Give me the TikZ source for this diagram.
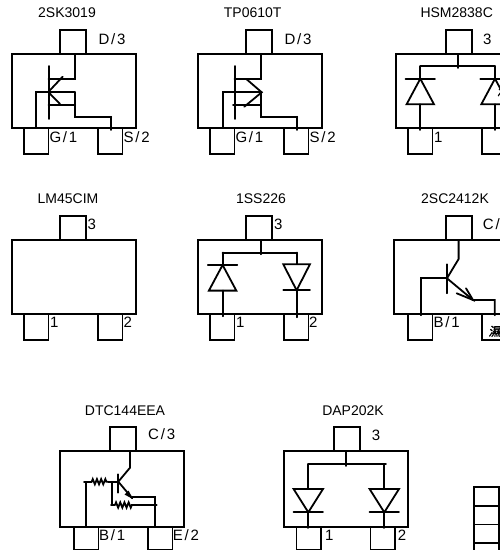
\documentclass[tikz,border=0pt]{standalone}
\usepackage{fontspec}
\usetikzlibrary{decorations.pathmorphing}
\setmainfont{Liberation Sans}
\newfontfamily\pinfont[LetterSpace=12]{Liberation Sans}
\newfontfamily\cjk[FakeSlant=0.2,FakeBold=2]{Noto Sans CJK SC}

\tikzset{
  wire/.style={line width=1.8pt, line cap=round},
  box/.style={draw, line width=1.8pt, inner sep=0pt, outer sep=0pt, anchor=north west},
  title/.style={inner sep=0pt, font=\fontsize{14}{14}\selectfont},
  pin/.style={inner sep=0pt, anchor=west, font=\pinfont\fontsize{15}{15}\selectfont},
  glyph/.style={inner sep=0pt, anchor=west, font=\cjk\fontsize{12}{12}\selectfont},
  res/.style={wire, line cap=butt, decorate, decoration={zigzag, amplitude=2.6pt, segment length=4.2pt}}
}

% name, body height, lower pad height, top pad x, left pad x
\newcommand{\package}[5]{
  \node[box, minimum width=124pt, minimum height=#2pt] (#1body) at (0,0) {};
  \node[box, minimum width=26pt, minimum height=24pt] (#1top) at (#4,-24) {};
  \node[box, minimum width=24.5pt, minimum height=#3pt] (#1left) at (#5,#2) {};
  \node[box, minimum width=24.5pt, minimum height=#3pt] (#1right) at (#5+74,#2) {};
}
% lines that both transistors share
\newcommand{\fetlines}{
  \draw[wire] (62.3,0) -- (62.3,25) -- (36.3,25);
  \draw[wire] (36.3,12) -- (36.3,65);
  \draw[wire] (62.3,38) -- (62.3,62.7) -- (99,62.7);
  \draw[wire] (98.5,62.7) -- (98.5,76);
}
% x, top of the lead, bar, base, half width
\newcommand{\diodeup}[5]{
  \draw[wire] (#1,#2) -- (#1,#3);
  \draw[wire] (#1-#5-1,#3) -- (#1+#5+1,#3);
  \draw[wire] (#1,#3) -- (#1-#5,#4) -- (#1+#5,#4) -- cycle;
  \draw[wire] (#1,#4) -- (#1,76);
}
% x, top of the lead, base, bar, half width
\newcommand{\diodedown}[5]{
  \draw[wire] (#1,#2) -- (#1,#3);
  \draw[wire] (#1-#5,#3) -- (#1+#5,#3) -- (#1,#4) -- cycle;
  \draw[wire] (#1-#5,#4) -- (#1+#5,#4);
  \draw[wire] (#1,#4) -- (#1,77);
}

\begin{document}
\begin{tikzpicture}[x=1pt,y=-1pt]
  \clip (0,0) rectangle (500,550);
  % titles
  \node[title] (skname) at (67,13) {2SK3019};
  \node[title] (tpname) at (252.7,13) {TP0610T};
  \node[title] (hsmname) at (456.7,13) {HSM2838C};
  \node[title] (lmname) at (68,199) {LM45CIM};
  \node[title] (ssname) at (261,199) {1SS226};
  \node[title] (scname) at (455,199) {2SC2412K};
  \node[title] (dtcname) at (125,411) {DTC144EEA};
  \node[title] (dapname) at (353,411) {DAP202K};

  % first row
  \begin{scope}[shift={(12.3,54)}]
    \package{sk}{74}{26}{48}{11.7}
    \fetlines
    \draw[wire] (36.3,51) -- (63,51);
    \draw[wire] (23.7,74) -- (23.7,38) -- (62.3,38);
    \draw[wire] (50.4,22.7) -- (36,38) -- (47.7,50);
    \node[pin] (skd) at (86,-15) {D/3};
    \node[pin] (skg) at (37,83) {G/1};
    \node[pin] (sks) at (111,83) {S/2};
  \end{scope}
  \begin{scope}[shift={(198.3,54)}]
    \package{tp}{74}{26}{48}{11.7}
    \fetlines
    \draw[wire] (34.7,51) -- (62.3,51);
    \draw[wire] (24.3,74) -- (24.3,38) -- (63.4,38);
    \draw[wire] (48,25) -- (63.4,38.3) -- (46,52.7);
    \node[pin] (tpd) at (86,-15) {D/3};
    \node[pin] (tpg) at (37,83) {G/1};
    \node[pin] (tps) at (111,83) {S/2};
  \end{scope}
  \begin{scope}[shift={(396,54)}]
    \package{hsm}{74}{26}{50}{12}
    \draw[wire] (62.3,0) -- (62.3,14);
    \draw[wire] (24.3,12.3) -- (99,12.3);
    \diodeup{24.3}{12.3}{24.7}{50.3}{13.7}
    \diodeup{99}{12.3}{24.7}{50.3}{13.7}
    \node[pin] (hsmc) at (87,-15) {3};
    \node[pin] (hsma) at (38,83) {1};
    \node[glyph] (hsmb) at (101,37) {濕};
  \end{scope}

  % second row
  \begin{scope}[shift={(12.3,240.3)}]
    \package{lm}{74}{26}{48}{11.7}
    \node[pin] (lmc) at (75,-15.6) {3};
    \node[pin] (lma) at (37.7,82.4) {1};
    \node[pin] (lmb) at (111,82.4) {2};
  \end{scope}
  \begin{scope}[shift={(198.3,240.3)}]
    \package{ss}{74}{26}{47.7}{11.7}
    \draw[wire] (62.3,0) -- (62.3,14);
    \draw[wire] (24.3,12.3) -- (98.3,12.3);
    \diodeup{24.3}{12.3}{24.7}{50.3}{13.7}
    \diodedown{98.3}{12.3}{24}{50}{13.3}
    \node[pin] (ssc) at (75.7,-15.6) {3};
    \node[pin] (ssa) at (37.7,82.4) {1};
    \node[pin] (ssb) at (110.7,82.4) {2};
  \end{scope}
  \begin{scope}[shift={(394.3,240.3)}]
    \package{sc}{74}{26}{51.7}{13.7}
    \draw[wire] (64.3,0) -- (64.3,18.7) -- (52.7,38);
    \draw[wire] (52.7,24) -- (52.7,53);
    \draw[wire] (26.3,75) -- (26.3,38) -- (52.7,38);
    \draw[wire] (52.7,38) -- (78.7,59.7) -- (100.5,59.7) -- (100.5,75);
    \draw[wire] (71.7,48) -- (78.7,59.7) -- (62.4,53);
    \node[pin] (scc) at (88.4,-16) {C/3};
    \node[pin] (scb) at (39,82) {B/1};
    \node[glyph] (sce) at (94,91) {濕};
  \end{scope}

  % third row
  \begin{scope}[shift={(60,451)}]
    \package{dtc}{76}{23}{50}{14}
    \draw[wire] (70,0) -- (70,16.7) -- (58.3,30.7);
    \draw[wire] (58.3,23.3) -- (58.3,41.7);
    \draw[wire] (58.3,30.7) -- (72.3,47.3);
    \fill (72.8,48) -- (64.5,43.5) -- (68.5,39.5) -- cycle;
    \draw[wire] (72.3,45.7) -- (95,45.7) -- (95,76);
    \draw[wire] (26,76) -- (26,30.7) -- (24,30.7);
    \draw[wire] (26,30.7) -- (31.7,30.7);
    \draw[res] (31.7,30.7) -- (48.3,30.7);
    \draw[wire] (48.3,30.7) -- (58.3,30.7);
    \draw[wire] (51.7,30.7) -- (51.7,54);
    \draw[wire] (51,54) -- (55,54);
    \draw[res] (55,54) -- (73,54);
    \draw[wire] (73,54) -- (96.7,54);
    \node[pin] (dtcc) at (88,-16.7) {C/3};
    \node[pin] (dtcb) at (39,84) {B/1};
    \node[pin] (dtce) at (112.7,84) {E/2};
  \end{scope}
  \begin{scope}[shift={(284,451)}]
    \package{dap}{76}{23}{50}{12.5}
    \draw[wire] (62.3,0) -- (62.3,15);
    \draw[wire] (24.3,13) -- (102,13);
    \diodedown{24.3}{13}{38}{61.3}{14.7}
    \diodedown{100.3}{13}{38}{61.3}{14.7}
    \node[pin] (dapc) at (87.7,-16) {3};
    \node[pin] (dapa) at (41,84) {1};
    \node[pin] (dapb) at (113.7,84) {2};
  \end{scope}

  % table at the corner
  \foreach \c in {0,1}
    \foreach \r in {0,1,2,3}
      \node[box, minimum width=25pt, minimum height=18.7pt] (cell\c\r) at (474+25*\c,487+18.7*\r) {};
\end{tikzpicture}
\end{document}
